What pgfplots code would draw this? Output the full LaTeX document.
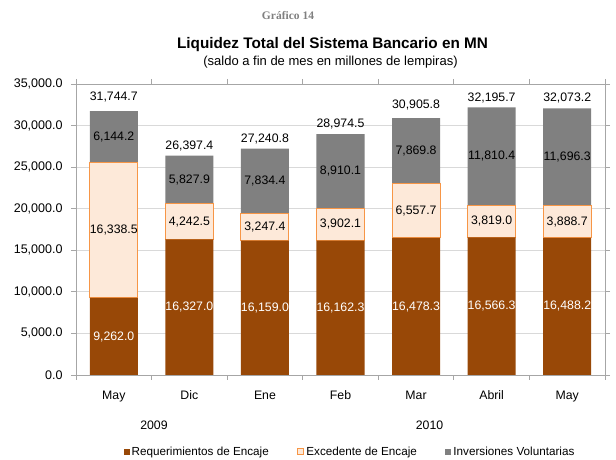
\documentclass[border=0pt]{standalone}
\usepackage{pgfplots}
\usepackage{pgfplotstable}
\pgfplotsset{compat=1.18}
\usepackage{fontspec}
\setmainfont{Liberation Sans}
\newfontfamily\seriffont{Liberation Serif}
\definecolor{brn}{HTML}{984807}
\definecolor{exf}{HTML}{FDE9D9}
\definecolor{exd}{HTML}{F79646}
\definecolor{gry}{HTML}{808080}
\definecolor{frm}{HTML}{A6A6A6}
\definecolor{grd}{HTML}{D9D9D9}
\pgfplotstableread{
cat req exc inv
0 9262.0 16338.5 6144.2
1 16327.0 4242.5 5827.9
2 16159.0 3247.4 7834.4
3 16162.3 3902.1 8910.1
4 16478.3 6557.7 7869.8
5 16566.3 3819.0 11810.4
6 16488.2 3888.7 11696.3
}\bankdata
% label positions (value axis) and texts
\pgfplotstableread{
cat pos lab
0 4631.0 9,262.0
1 8163.5 16,327.0
2 8079.5 16,159.0
3 8081.2 16,162.3
4 8239.2 16,478.3
5 8283.2 16,566.3
6 8244.1 16,488.2
}\lblwhite
\pgfplotstableread{
cat pos lab
0 17431.3 16,338.5
1 18448.3 4,242.5
2 17782.7 3,247.4
3 18113.4 3,902.1
4 19757.2 6,557.7
5 18475.8 3,819.0
6 18432.6 3,888.7
0 28672.6 6,144.2
1 23483.5 5,827.9
2 23323.6 7,834.4
3 24519.5 8,910.1
4 26970.9 7,869.8
5 26290.5 11,810.4
6 26225.1 11,696.3
0 33490 31,744.7
1 27578 26,397.4
2 28381 27,240.8
3 30170 28,974.5
4 32458 30,905.8
5 33369 32,195.7
6 33369 32,073.2
}\lblblack
\begin{document}
\begin{tikzpicture}[x=1pt,y=1pt]
\path[use as bounding box] (0,0) rectangle (616,460);
\begin{axis}[at={(76pt,85pt)}, anchor=south west, scale only axis,
  width=529pt, height=291pt,
  ybar stacked, bar width=48pt,
  ymin=0, ymax=35000, xmin=-0.5, xmax=6.5,
  ytick={0,5000,...,35000},
  yticklabel style={font=\fontsize{12.5}{14}\selectfont, anchor=east, inner sep=0pt, xshift=-8.3pt,
    /pgf/number format/fixed, /pgf/number format/fixed zerofill,
    /pgf/number format/precision=1, /pgf/number format/1000 sep={,},
    /pgf/number format/assume math mode=true},
  scaled y ticks=false,
  ymajorgrids, grid style={grd, line width=0.8pt},
  axis line style={frm, line width=0.8pt},
  tick style={frm, line width=0.8pt},
  tick align=outside, major tick length=5pt,
  xtick={-0.5,0.5,...,6.5},
  xticklabels={May,Dic,Ene,Feb,Mar,Abril,May,{}},
  xticklabel style={font=\fontsize{12.3}{14}\selectfont, anchor=base, inner sep=0pt,
    xshift=37.8pt, yshift=-20pt},
  legend style={draw=none, fill=none, at={(0.518,-0.2646)}, anchor=center,
    font=\fontsize{11.7}{13}\selectfont, legend columns=3,
    /tikz/every even column/.append style={column sep=26.5pt}},
  legend image code/.code={\path[#1] (0pt,-3pt) rectangle (6pt,3pt);},
  clip=false,
]
\addplot[fill=brn, draw=none] table[x=cat, y=req] {\bankdata};
\addplot[fill=exf, draw=exd, line width=1pt] table[x=cat, y=exc] {\bankdata};
\addplot[fill=gry, draw=none] table[x=cat, y=inv] {\bankdata};
\legend{Requerimientos de Encaje, Excedente de Encaje, Inversiones Voluntarias}
\end{axis}
\begin{axis}[at={(76pt,85pt)}, anchor=south west, scale only axis,
  width=529pt, height=291pt,
  ymin=0, ymax=35000, xmin=-0.5, xmax=6.5, hide axis, clip=false]
\addplot[draw=none, mark=none, nodes near coords, point meta=explicit symbolic,
  nodes near coords style={anchor=center, inner sep=0pt, font=\fontsize{12.3}{14}\selectfont, text=white}]
  table[x=cat, y=pos, meta=lab] {\lblwhite};
\addplot[draw=none, mark=none, nodes near coords, point meta=explicit symbolic,
  nodes near coords style={anchor=center, inner sep=0pt, font=\fontsize{12.3}{14}\selectfont, text=black}]
  table[x=cat, y=pos, meta=lab] {\lblblack};
\end{axis}
\node[font=\fontsize{12.3}{14}\selectfont] at (154,35) {2009};
\node[font=\fontsize{12.3}{14}\selectfont] at (429.5,35) {2010};
\node[font=\seriffont\bfseries\fontsize{11.5}{13}\selectfont, text=gry] at (288,444) {Gráfico 14};
\node[font=\bfseries\fontsize{15.3}{17}\selectfont] at (332.5,415) {Liquidez Total del Sistema Bancario en MN};
\node[font=\fontsize{13}{15}\selectfont] at (330.5,398.3) {(saldo a fin de mes en millones de lempiras)};
\end{tikzpicture}
\end{document}
